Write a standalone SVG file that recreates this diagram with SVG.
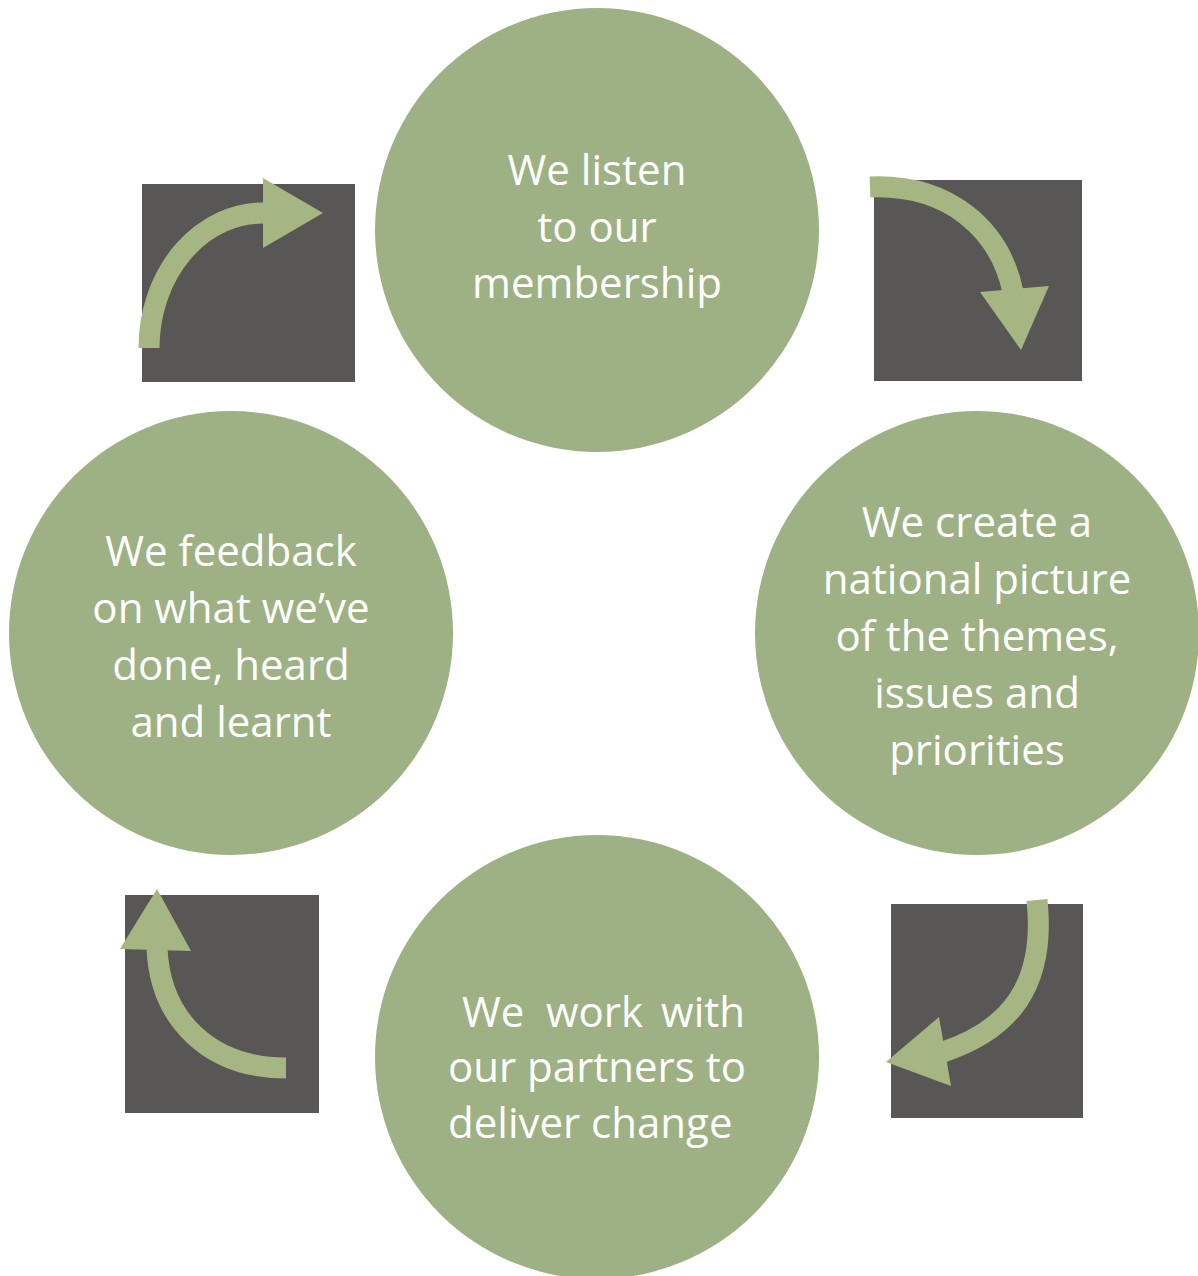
<svg xmlns="http://www.w3.org/2000/svg" width="1198" height="1276" viewBox="0 0 1198 1276">
<style>
.c{fill:#9DB184}
.b{fill:#595755}
.a{fill:none;stroke:#A6B682;stroke-width:21}
.h{fill:#A6B682}
text{font-family:"Open Sans","Liberation Sans",sans-serif;font-size:42px;fill:#ffffff}
.m{text-anchor:middle}
.e{text-anchor:end}
</style>
<rect width="1198" height="1276" fill="#ffffff"/>
<g id="connectors">
<g id="arrow-tl">
<rect class="b" x="142" y="184" width="213" height="198"/>
<path class="a" d="M149,348 A114,135 0 0 1 265,213"/>
<polygon class="h" points="263,178 323,213 263,248"/>
</g>
<g id="arrow-tr">
<rect class="b" x="874" y="180" width="208" height="201"/>
<path class="a" d="M870,187 C950,184 1000,230 1013,292"/>
<polygon class="h" points="980,292 1049,286 1021,350"/>
</g>
<g id="arrow-br">
<rect class="b" x="891" y="904" width="192" height="214"/>
<path class="a" d="M1037,900 C1046,985 1010,1030 943,1052"/>
<polygon class="h" points="939,1017 951,1086 886,1062"/>
</g>
<g id="arrow-bl">
<rect class="b" x="125" y="895" width="194" height="218"/>
<path class="a" d="M157,948 C160,1020 210,1068 286,1068"/>
<polygon class="h" points="157,889 191,951 120,949"/>
</g>
</g>
<g id="node-top">
<circle class="c" cx="597" cy="230" r="222"/>
<text class="m" x="597" y="185">We listen</text>
<text class="m" x="597" y="242">to our</text>
<text class="m" x="597" y="298">membership</text>
</g>
<g id="node-right">
<circle class="c" cx="977" cy="633" r="222"/>
<text class="m" x="977" y="537">We create a</text>
<text class="m" x="977" y="594">national picture</text>
<text class="m" x="977" y="651">of the themes,</text>
<text class="m" x="977" y="708">issues and</text>
<text class="m" x="977" y="765">priorities</text>
</g>
<g id="node-bottom">
<circle class="c" cx="597" cy="1057" r="222"/>
<text x="462" y="1027">We</text>
<text x="546" y="1027">work</text>
<text class="e" x="745" y="1027">with</text>
<text x="448" y="1082">our partners to</text>
<text x="448" y="1138">deliver change</text>
</g>
<g id="node-left">
<circle class="c" cx="231" cy="633" r="222"/>
<text class="m" x="231" y="566">We feedback</text>
<text class="m" x="231" y="623">on what we’ve</text>
<text class="m" x="231" y="680">done, heard</text>
<text class="m" x="231" y="737">and learnt</text>
</g>
</svg>
